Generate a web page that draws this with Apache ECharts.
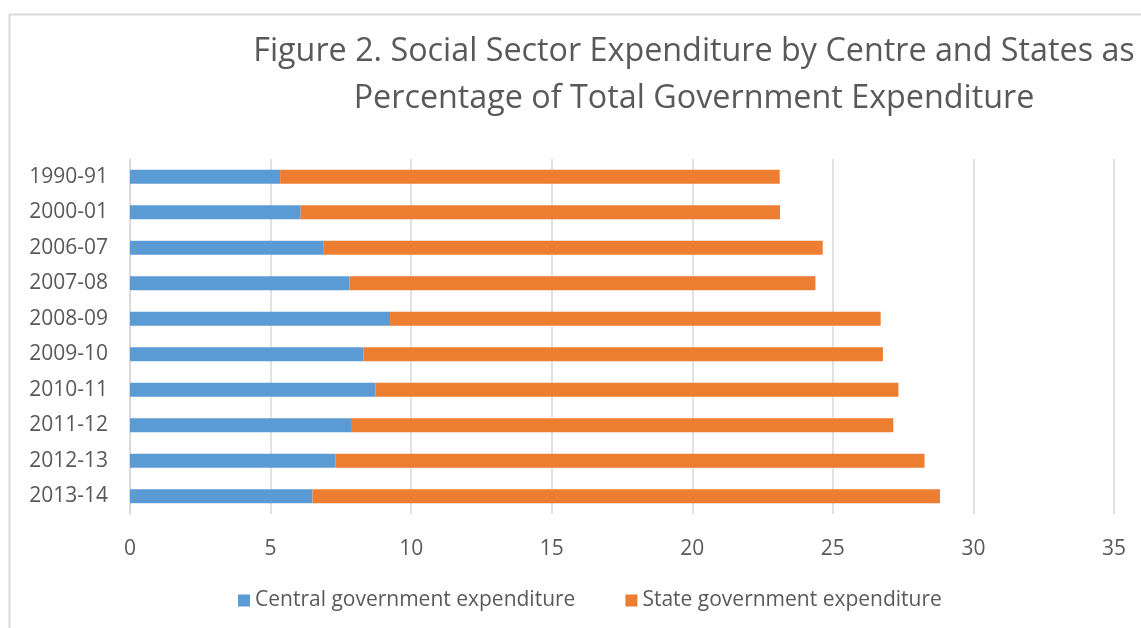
<!DOCTYPE html>
<html><head><meta charset="utf-8">
<script src="https://cdn.jsdelivr.net/npm/echarts@6/dist/echarts.min.js"></script>
<style>html,body{margin:0;padding:0;background:#fff}#c{width:1141px;height:628px}</style>
</head><body><div id="c"></div>
<script>
const categories = ['1990-91','2000-01','2006-07','2007-08','2008-09','2009-10','2010-11','2011-12','2012-13','2013-14'];
const centralExp = [5.34, 6.07, 6.87, 7.81, 9.25, 8.31, 8.73, 7.86, 7.31, 6.49];
const stateExp = [17.77, 17.05, 17.77, 16.57, 17.45, 18.47, 18.60, 19.29, 20.95, 22.32];
const xTicks = [0, 5, 10, 15, 20, 25, 30, 35];
const seriesNames = ['Central government expenditure', 'State government expenditure'];
const titleLines = ['Figure 2. Social Sector Expenditure by Centre and States as', 'Percentage of Total Government Expenditure'];

const FONT = "'Open Sans', 'Noto Sans', sans-serif";
const chart = echarts.init(document.getElementById('c'));
chart.setOption({
  animation: false,
  backgroundColor: '#fff',
  graphic: [{
    type: 'rect', shape: {x: 9.5, y: 14.5, width: 1200, height: 700},
    style: {fill: 'none', stroke: '#d9d9d9', lineWidth: 2}, silent: true
  }],
  title: {
    text: titleLines.join('\n'),
    left: 689, top: 23, textAlign: 'center',
    textStyle: {fontFamily: FONT, fontWeight: 'normal', fontSize: 32.3, color: '#595959', lineHeight: 47}
  },
  legend: {
    data: seriesNames, bottom: 12, left: 233, itemWidth: 12, itemHeight: 12, itemGap: 50,
    icon: 'rect',
    textStyle: {fontFamily: FONT, fontSize: 21, color: '#595959'}
  },
  grid: {left: 130, right: 27, top: 159, bottom: 114, containLabel: false},
  xAxis: {
    type: 'value', min: 0, max: 35, interval: 5,
    axisLine: {show: false}, axisTick: {show: false},
    axisLabel: {fontFamily: FONT, fontSize: 21, color: '#595959', margin: 25,
      formatter: v => xTicks.includes(v) ? String(v) : ''},
    splitLine: {lineStyle: {color: '#d9d9d9', width: 1.5}}
  },
  yAxis: {
    type: 'category', data: categories, inverse: true,
    axisLine: {show: true, lineStyle: {color: '#d9d9d9', width: 1.5}},
    axisTick: {show: false},
    axisLabel: {fontFamily: FONT, fontSize: 21, color: '#595959', margin: 22}
  },
  series: [
    {name: seriesNames[0], type: 'bar', stack: 't', data: centralExp, barWidth: '40%',
     itemStyle: {color: '#5b9bd5'}},
    {name: seriesNames[1], type: 'bar', stack: 't', data: stateExp, barWidth: '40%',
     itemStyle: {color: '#ed7d31'}}
  ]
});
</script></body></html>
